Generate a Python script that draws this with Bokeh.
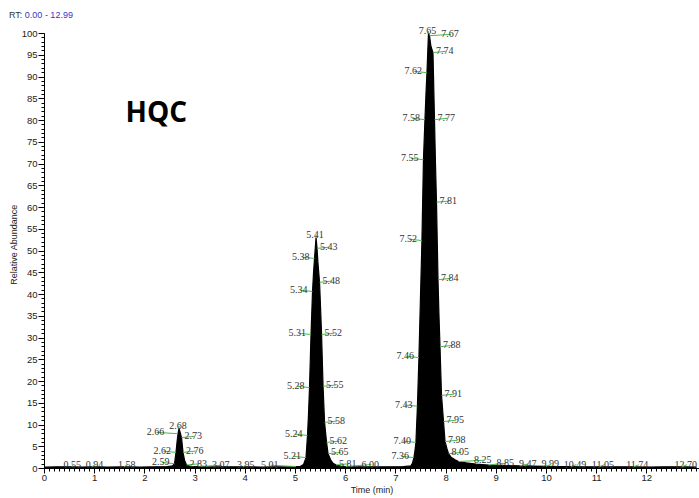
from bokeh.plotting import figure
from bokeh.layouts import column
from bokeh.models import Range1d, FixedTicker, Label, ColumnDataSource, Div
from bokeh.embed import file_html
from bokeh.resources import INLINE

# ---------------- data ----------------
TIME = [0.00, 0.25, 0.55, 0.75, 0.94, 1.25, 1.58, 1.90, 2.20, 2.45, 2.55, 2.59, 2.62, 2.64,
        2.66, 2.68, 2.70, 2.73, 2.76, 2.79, 2.83, 2.90, 3.07, 3.40, 3.70, 3.95, 4.30, 4.65,
        5.01, 5.10, 5.16, 5.21, 5.24, 5.26, 5.28, 5.31, 5.34, 5.36, 5.38, 5.41, 5.43, 5.45,
        5.48, 5.50, 5.52, 5.55, 5.58, 5.62, 5.65, 5.70, 5.75, 5.81, 5.90, 6.00, 6.30, 6.60,
        6.90, 7.15, 7.30, 7.33, 7.36, 7.38, 7.40, 7.43, 7.46, 7.49, 7.52, 7.55, 7.58, 7.60,
        7.62, 7.65, 7.67, 7.70, 7.74, 7.77, 7.79, 7.81, 7.84, 7.86, 7.88, 7.91, 7.95, 7.98,
        8.02, 8.05, 8.10, 8.18, 8.25, 8.40, 8.60, 8.85, 9.15, 9.47, 9.70, 9.99, 10.25, 10.49,
        10.75, 11.05, 11.40, 11.74, 12.00, 12.35, 12.70, 12.99]
INTENSITY = [0.30, 0.40, 0.40, 0.35, 0.40, 0.35, 0.40, 0.35, 0.40, 0.45, 0.60, 1.10, 3.70, 6.00,
             8.00, 9.20, 8.40, 7.10, 3.70, 1.90, 0.80, 0.50, 0.45, 0.40, 0.40, 0.40, 0.35, 0.40,
             0.45, 0.50, 0.90, 2.50, 7.60, 12.50, 18.60, 30.80, 40.70, 45.00, 48.30, 53.10, 50.60, 47.00,
             42.80, 37.00, 30.80, 18.90, 10.60, 6.00, 3.40, 2.00, 1.20, 0.80, 0.55, 0.45, 0.40, 0.40,
             0.40, 0.45, 0.60, 1.20, 2.50, 4.00, 6.00, 14.30, 25.50, 39.00, 52.40, 71.00, 80.20, 86.00,
             91.00, 100.00, 99.50, 97.00, 95.60, 80.20, 70.00, 61.20, 43.40, 35.00, 28.00, 16.80, 10.80, 6.20,
             4.50, 3.40, 2.60, 2.00, 1.60, 1.30, 1.00, 0.80, 0.70, 0.60, 0.55, 0.50, 0.45, 0.45,
             0.40, 0.40, 0.40, 0.40, 0.35, 0.40, 0.40, 0.35]
LABEL_TIMES = [0.55, 0.94, 1.58, 2.59, 2.62, 2.66, 2.68, 2.73, 2.76, 2.83, 3.07, 3.95, 5.01,
               5.21, 5.24, 5.28, 5.31, 5.34, 5.38, 5.41, 5.43, 5.48, 5.52, 5.55, 5.58, 5.62,
               5.65, 5.81, 6.00, 7.36, 7.40, 7.43, 7.46, 7.52, 7.55, 7.58, 7.62, 7.65, 7.67,
               7.74, 7.77, 7.81, 7.84, 7.88, 7.91, 7.95, 7.98, 8.05, 8.25, 8.85, 9.47, 9.99,
               10.49, 11.05, 11.74, 12.70]
X_TICKS = list(range(0, 13))
Y_TICKS = list(range(0, 101, 5))
RT_LABEL = "RT:"
RT_RANGE = "0.00 - 12.99"
SAMPLE = "HQC"

# ---------------- geometry (absolute page pixels) ----------------
W, H = 699, 498
HEADER_H = 20
LEFT, BOTTOM = 44, 30
TOP = HEADER_H            # main frame starts right under the header strip
X0, X1 = 0.0, 13.05
FW = W - LEFT
FH = H - TOP - BOTTOM
SX = FW / (X1 - X0)
SY = (H - BOTTOM - 33) / 100.0     # value 100 sits at page y = 33
Y0 = 0.0
Y1 = FH / SY


def sxp(t):
    return LEFT + (t - X0) * SX


def syp(v):
    return TOP + (Y1 - v) * SY


def dx(px):
    return X0 + (px - LEFT) / SX


def dy(py):
    return Y1 - (py - TOP) / SY


FS = 10.0


def text_w(s):
    return sum((0.278 if c == "." else 0.556) for c in s) * FS


TEXT_H = 7.5

# apex detection
apex = []
for i in range(1, len(TIME) - 1):
    if INTENSITY[i] > 5 and INTENSITY[i] > INTENSITY[i - 1] and INTENSITY[i] >= INTENSITY[i + 1]:
        apex.append(TIME[i])

lab = []
for t in LABEL_TIMES:
    v = INTENSITY[TIME.index(t)]
    na = min(apex, key=lambda a: abs(a - t))
    s = "%.2f" % t
    w = text_w(s)
    px, py = sxp(t), syp(v)
    if t in apex:
        left, bottom, d, pr = px - w / 2, py - 3, 0, 0
    elif v < 1.2 and abs(t - na) > 0.45:
        d = 1 if t > na else -1
        left, bottom, pr = px - 0.3 * w, py - 2.5, 2
    elif t < na:
        left, bottom, d, pr = px - 3 - w, py - 1.8, -1, 1
    else:
        left, bottom, d, pr = px + 3, py - 1.8, 1, 1
    lab.append(dict(t=t, v=v, s=s, w=w, left=left, bottom=bottom,
                    d=d, pr=pr, dist=abs(t - na)))

lab.sort(key=lambda L: (L["pr"], L["dist"]))
PADX, PADY = 3, 2
placed = []
for L in lab:
    for _ in range(50):
        hit = None
        for P in placed:
            if (L["left"] < P["left"] + P["w"] + PADX and L["left"] + L["w"] > P["left"] - PADX and
                    L["bottom"] - TEXT_H < P["bottom"] + PADY and L["bottom"] > P["bottom"] - TEXT_H - PADY):
                hit = P
                break
        if hit is None:
            break
        if L["d"] >= 0:
            L["left"] = hit["left"] + hit["w"] + PADX
        else:
            L["left"] = hit["left"] - PADX - L["w"]
    placed.append(L)

tx = [dx(L["left"]) for L in placed]
ty = [dy(L["bottom"]) for L in placed]
tt = [L["s"] for L in placed]
gx0 = [L["t"] for L in placed]
gy0 = [L["v"] for L in placed]
gx1 = [dx(L["left"] + L["w"] / 2) for L in placed]
gy1 = [dy(L["bottom"] + 0.5) for L in placed]

# ---------------- header strip (HTML text) ----------------
hdr_html = (
    '<div style="position:relative;width:%dpx;height:%dpx;margin:0;padding:0;">'
    '<div style="position:absolute;left:9px;top:11px;white-space:nowrap;'
    "font-family:'Liberation Sans',Arial,sans-serif;font-size:9px;line-height:9px;\">"
    '<span style="color:#333333">%s</span> '
    '<span style="color:#3535c8">%s</span></div></div>'
) % (W, HEADER_H, RT_LABEL, RT_RANGE)
hdr = Div(text=hdr_html, width=W, height=HEADER_H, margin=(0, 0, 0, 0))

# ---------------- main chromatogram ----------------
p = figure(width=W, height=H - HEADER_H, output_backend="svg", toolbar_location=None,
           x_range=Range1d(X0, X1), y_range=Range1d(Y0, Y1),
           min_border_left=LEFT, min_border_right=0, min_border_top=0,
           min_border_bottom=BOTTOM, margin=(0, 0, 0, 0))
p.outline_line_color = None
p.grid.visible = False

src = ColumnDataSource(dict(t=TIME, v=INTENSITY))
p.varea(x="t", y1=0, y2="v", source=src, fill_color="black")
p.line(x="t", y="v", source=src, line_color="black", line_width=1.2)

p.segment(x0=gx0, y0=gy0, x1=gx1, y1=gy1, line_color="#4cb84c", line_width=1)
p.text(x=tx, y=ty, text=tt, text_font_size="10px", text_color="#333333",
       text_align="left", text_baseline="alphabetic", text_font="Liberation Sans")

xa = p.xaxis[0]
xa.ticker = FixedTicker(ticks=X_TICKS, minor_ticks=[i / 10 for i in range(0, 131)])
xa.axis_label = "Time (min)"
ya = p.yaxis[0]
ya.ticker = FixedTicker(ticks=Y_TICKS, minor_ticks=list(range(0, 101)))
ya.axis_label = "Relative Abundance"
ya.bounds = (0, 100)
for a, tout in ((xa, 5), (ya, 6)):
    a.axis_line_color = "black"
    a.axis_line_width = 1
    a.major_tick_out = tout
    a.major_tick_in = 0
    a.minor_tick_out = 3
    a.minor_tick_in = 0
    a.major_tick_line_color = "black"
    a.minor_tick_line_color = "black"
    a.major_label_text_font = "Liberation Sans"
    a.major_label_text_font_size = "9.5px"
    a.major_label_text_color = "#222222"
    a.axis_label_text_font = "Liberation Sans"
    a.axis_label_text_font_size = "9px"
    a.axis_label_text_font_style = "normal"
    a.axis_label_text_color = "#222222"
xa.major_label_standoff = 1
xa.axis_label_standoff = 1
ya.major_label_standoff = 1
ya.axis_label_standoff = 0

p.add_layout(Label(x=dx(125), y=dy(110.5), text=SAMPLE, text_font="Open Sans",
                   text_font_size="28px", text_font_style="bold", text_color="black",
                   text_baseline="alphabetic"))

layout = column(hdr, p, spacing=0)
open("out.html", "w").write(file_html(layout, INLINE))
